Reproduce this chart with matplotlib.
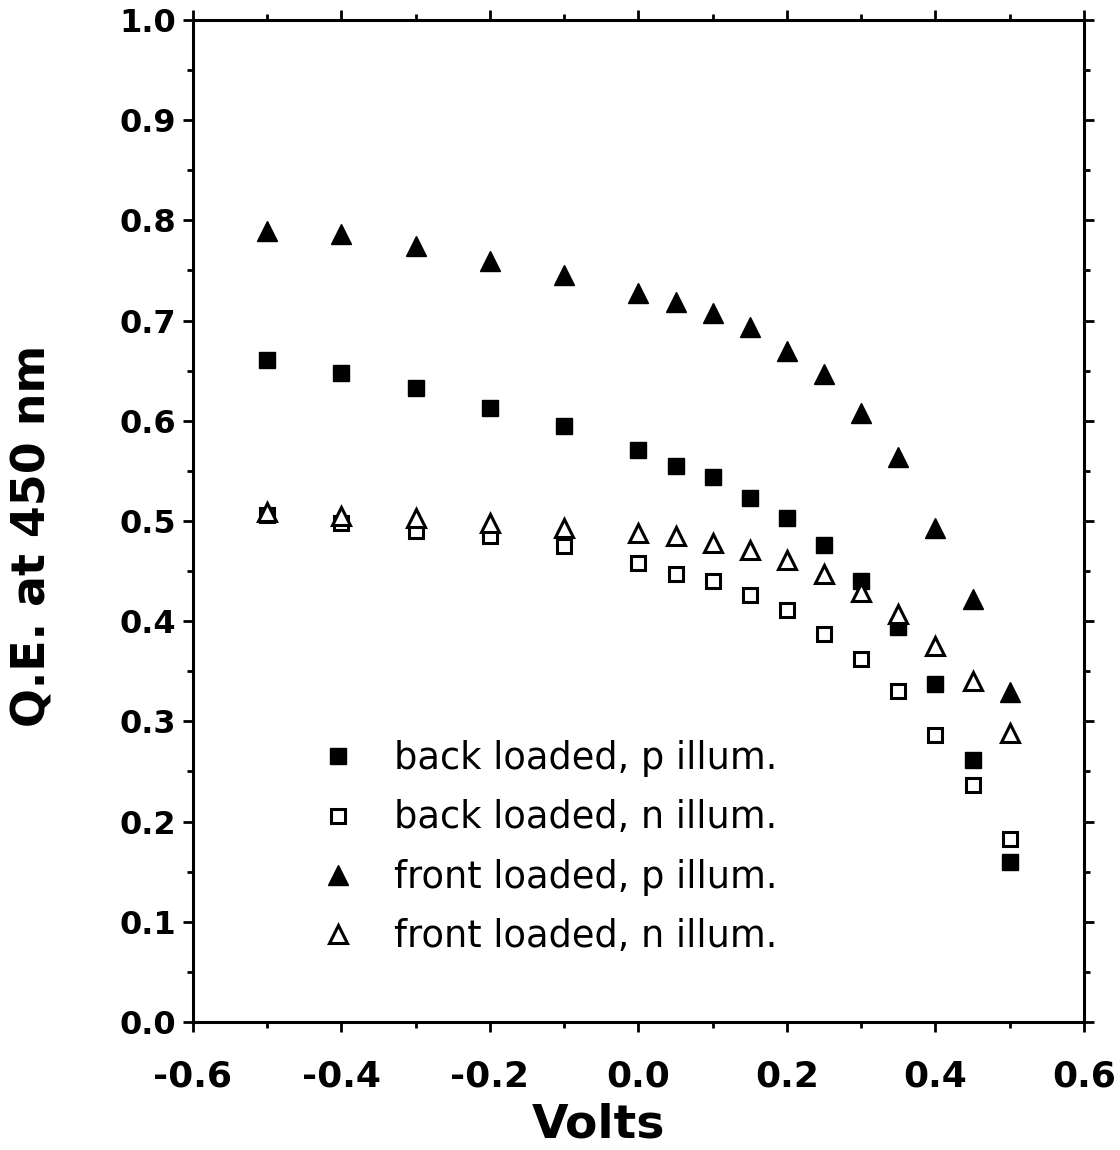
import matplotlib
matplotlib.use("Agg")
import matplotlib.pyplot as plt
from matplotlib.ticker import MultipleLocator, FixedLocator

volts = [-0.5, -0.4, -0.3, -0.2, -0.1, 0.0, 0.05, 0.1, 0.15, 0.2, 0.25, 0.3, 0.35, 0.4, 0.45, 0.5]
back_p = [0.661, 0.648, 0.633, 0.613, 0.595, 0.571, 0.555, 0.544, 0.523, 0.503, 0.476, 0.440, 0.394, 0.337, 0.261, 0.160]
back_n = [0.506, 0.498, 0.490, 0.485, 0.475, 0.458, 0.447, 0.440, 0.426, 0.411, 0.387, 0.362, 0.330, 0.286, 0.237, 0.183]
front_p = [0.789, 0.786, 0.774, 0.759, 0.746, 0.728, 0.719, 0.708, 0.694, 0.670, 0.647, 0.608, 0.564, 0.493, 0.422, 0.329]
front_n = [0.509, 0.505, 0.503, 0.498, 0.493, 0.488, 0.485, 0.478, 0.471, 0.461, 0.447, 0.429, 0.407, 0.375, 0.340, 0.288]

labels = ["back loaded, p illum.", "back loaded, n illum.",
          "front loaded, p illum.", "front loaded, n illum."]
xticks = [-0.6, -0.4, -0.2, 0.0, 0.2, 0.4, 0.6]
xticklabels = ["-0.6", "-0.4", "-0.2", "0.0", "0.2", "0.4", "0.6"]
yticks = [0.0, 0.1, 0.2, 0.3, 0.4, 0.5, 0.6, 0.7, 0.8, 0.9, 1.0]
yticklabels = ["0.0", "0.1", "0.2", "0.3", "0.4", "0.5", "0.6", "0.7", "0.8", "0.9", "1.0"]

plt.rcParams['font.family'] = ['DejaVu Sans']

fig = plt.figure(figsize=(11.2, 11.5), dpi=100)
ax = fig.add_axes([193/1120, 128/1150, 891/1120, 1002/1150])

ax.plot(volts, back_p, linestyle='none', marker='s', ms=11.5, mfc='black', mec='black', mew=1, label=labels[0])
ax.plot(volts, back_n, linestyle='none', marker='s', ms=10.5, mfc='white', mec='black', mew=2.2, label=labels[1])
ax.plot(volts, front_p, linestyle='none', marker='^', ms=15, mfc='black', mec='black', mew=1, label=labels[2])
ax.plot(volts, front_n, linestyle='none', marker='^', ms=13.5, mfc='white', mec='black', mew=2.2, label=labels[3])

ax.set_xlim(-0.6, 0.6)
ax.set_ylim(0.0, 1.0)
ax.xaxis.set_major_locator(FixedLocator(xticks))
ax.xaxis.set_minor_locator(MultipleLocator(0.1))
ax.yaxis.set_major_locator(FixedLocator(yticks))
ax.yaxis.set_minor_locator(MultipleLocator(0.05))
ax.set_xticklabels(xticklabels, fontsize=26, fontweight='bold')
ax.set_yticklabels(yticklabels, fontsize=23, fontweight='bold')

for s in ax.spines.values():
    s.set_linewidth(2.2)
ax.tick_params(which='both', direction='out', top=True, right=True, width=2)
ax.tick_params(which='major', length=7)
ax.tick_params(which='minor', length=4)
ax.tick_params(axis='x', which='major', pad=20)
ax.tick_params(axis='y', which='major', pad=5)

fig.text(33/1120, 1 - 536/1150, "Q.E. at 450 nm", rotation=90, ha='center', va='center',
         fontsize=33, fontweight='bold')
fig.text(599/1120, 1 - 1137/1150, "Volts", ha='center', va='baseline',
         fontsize=34, fontweight='bold')

ax.legend(loc='upper left', bbox_to_anchor=((320-193)/891, (1022-740)/1002),
          frameon=False, fontsize=26.5, handlelength=1.0, handletextpad=1.0,
          borderpad=0, borderaxespad=0, labelspacing=0.61, numpoints=1)

fig.savefig("out.png", dpi=100)
